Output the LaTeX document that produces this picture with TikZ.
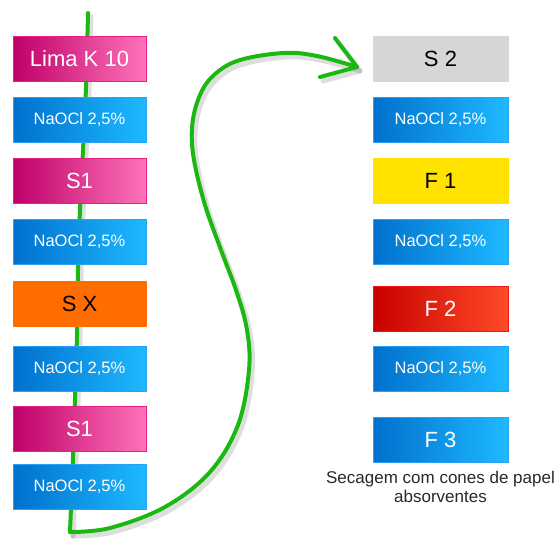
\documentclass[tikz,border=0pt]{standalone}
\usepackage{fontspec}
\setmainfont{Liberation Sans}
\usetikzlibrary{calc}
\definecolor{grn}{RGB}{28,184,18}
\definecolor{magL}{RGB}{190,0,105}
\definecolor{magR}{RGB}{255,115,185}
\definecolor{magB}{RGB}{232,30,135}
\definecolor{bluL}{RGB}{0,112,205}
\definecolor{bluR}{RGB}{30,185,255}
\definecolor{bluB}{RGB}{40,160,245}
\definecolor{orgF}{RGB}{255,108,0}
\definecolor{gryF}{RGB}{214,214,214}
\definecolor{yelF}{RGB}{255,226,0}
\definecolor{redL}{RGB}{200,0,0}
\definecolor{redR}{RGB}{255,75,40}
\definecolor{redB}{RGB}{240,20,20}
\definecolor{txtG}{RGB}{40,40,40}
\tikzset{
  box/.style={rectangle, inner sep=0pt, minimum height=45pt, line width=0.8pt},
  lbox/.style={box, minimum width=133pt},
  rbox/.style={box, minimum width=135pt},
  bigtxt/.style={font=\fontsize{22}{24}\selectfont},
  smalltxt/.style={font=\fontsize{16.5}{19}\selectfont},
  magbox/.style={draw=magB, left color=magL, right color=magR, text=white, bigtxt},
  blubox/.style={draw=bluB, left color=bluL, right color=bluR, text=white, smalltxt},
  f3box/.style={draw=bluB, left color=bluL, right color=bluR, text=white, bigtxt},
  orgbox/.style={draw=orgF, fill=orgF, text=black, bigtxt},
  grybox/.style={draw=gryF, fill=gryF, text=black, bigtxt},
  yelbox/.style={draw=yelF, fill=yelF, text=black, bigtxt},
  redbox/.style={draw=redB, left color=redL, right color=redR, text=white, bigtxt},
  greenline/.style={draw=grn, line width=4pt, line cap=round, line join=round},
  shadowline/.style={draw=black, opacity=0.13, line width=5pt, line cap=round, line join=round}
}
\begin{document}
\begin{tikzpicture}[x=1pt, y=-1pt]
\useasboundingbox (0,0) rectangle (556,538);
% free ends and path coordinates of the green connector
\coordinate (start) at (88,13);
\coordinate (corner) at (70,532);
\coordinate (tip) at (357,67);
\coordinate (armA) at (335,38);
\coordinate (armB) at (320,77);
% shadow of the green connector
\begin{scope}[shift={(3,4)}]
\draw[shadowline] plot[smooth] coordinates {(88,13) (86,87) (83,150) (80,210) (78,270) (77,335) (75,398) (73,457) (70,532)};
\draw[shadowline] plot[smooth, tension=0.6] coordinates {(70,532) (110,528) (165,507) (210,472) (238,425) (249,370) (247,330) (237,293) (221,250) (205,205) (194,160) (192,128) (198,100) (211,78) (237,61) (283,53) (317,56) (357,67)};
\draw[shadowline] (335,38) -- (357,67) -- (320,77);
\end{scope}
% green connector
\draw[greenline] plot[smooth] coordinates {(start) (86,87) (83,150) (80,210) (78,270) (77,335) (75,398) (73,457) (corner)};
\draw[greenline] plot[smooth, tension=0.6] coordinates {(corner) (110,528) (165,507) (210,472) (238,425) (249,370) (247,330) (237,293) (221,250) (205,205) (194,160) (192,128) (198,100) (211,78) (237,61) (283,53) (317,56) (tip)};
\draw[greenline] (armA) -- (tip) -- (armB);
% left column
\node[lbox, magbox] (l1) at (79.5,58.5) {Lima K 10};
\node[lbox, blubox] (l2) at (79.5,120) {NaOCl 2,5\%};
\node[lbox, magbox] (l3) at (79.5,180.5) {S1};
\node[lbox, blubox] (l4) at (79.5,241.5) {NaOCl 2,5\%};
\node[lbox, orgbox] (l5) at (79.5,304) {S X};
\node[lbox, blubox] (l6) at (79.5,368.5) {NaOCl 2,5\%};
\node[lbox, magbox] (l7) at (79.5,429) {S1};
\node[lbox, blubox] (l8) at (79.5,487) {NaOCl 2,5\%};
% right column
\node[rbox, grybox] (r1) at (440.5,58.5) {S 2};
\node[rbox, blubox] (r2) at (440.5,120) {NaOCl 2,5\%};
\node[rbox, yelbox] (r3) at (440.5,180.5) {F 1};
\node[rbox, blubox] (r4) at (440.5,242) {NaOCl 2,5\%};
\node[rbox, redbox] (r5) at (440.5,308.5) {F 2};
\node[rbox, blubox] (r6) at (440.5,368.5) {NaOCl 2,5\%};
\node[rbox, f3box] (r7) at (440.5,439.5) {F 3};
\node[text=txtG, align=center, font=\fontsize{17}{18.5}\selectfont, anchor=north, inner sep=0pt] (cap) at (440.5,471) {Secagem com cones de papel\\absorventes};
\end{tikzpicture}
\end{document}
